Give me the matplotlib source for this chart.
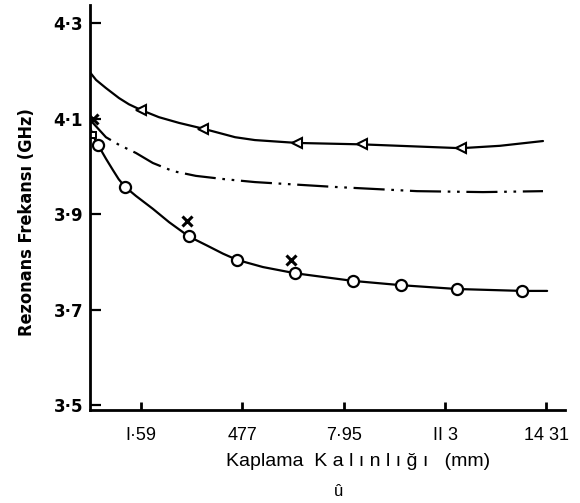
import matplotlib
matplotlib.use("Agg")
import matplotlib.pyplot as plt
from matplotlib import font_manager

# Coating thickness (mm) vs. resonant frequency (GHz)
x_ticks = [1.59, 4.77, 7.95, 11.13, 14.31]
x_tick_labels = ["I·59", "477", "7·95", "II 3", "14 31"]
y_ticks = [3.5, 3.7, 3.9, 4.1, 4.3]
y_tick_labels = ["3·5", "3·7", "3·9", "4·1", "4·3"]

# upper curve (traced line) and its triangle-marked measurements
upper_line_x = [0.0, 0.19, 0.50, 0.91, 1.22, 1.60, 2.16, 2.79, 3.54, 4.55, 5.17, 6.49,
                8.53, 11.63, 12.85, 14.2]
upper_line_y = [4.197, 4.181, 4.164, 4.143, 4.130, 4.118, 4.103, 4.091, 4.079, 4.061, 4.055, 4.049,
                4.046, 4.038, 4.043, 4.053]
upper_mark_x = [1.60, 3.54, 6.49, 8.53, 11.63]
upper_mark_y = [4.118, 4.079, 4.049, 4.046, 4.038]

# middle curve (dash-dot, no markers)
middle_x = [0.0, 0.09, 0.50, 0.91, 1.44, 1.97, 2.60, 3.32, 4.23, 5.17, 7.62, 10.25, 12.32, 14.2]
middle_y = [4.102, 4.091, 4.061, 4.045, 4.028, 4.007, 3.990, 3.980, 3.973, 3.967, 3.957, 3.948,
            3.946, 3.948]

# lower curve (traced line) and its circle-marked measurements
lower_line_x = [0.0, 0.09, 0.25, 0.50, 0.72, 0.90, 1.10, 1.44, 1.97, 2.48, 3.10, 3.67, 4.17, 4.61,
                5.42, 6.43, 8.24, 9.75, 11.50, 13.54, 14.33]
lower_line_y = [4.082, 4.065, 4.045, 4.016, 3.992, 3.973, 3.957, 3.938, 3.911, 3.883, 3.853, 3.834,
                3.817, 3.804, 3.789, 3.776, 3.760, 3.751, 3.743, 3.739, 3.739]
lower_mark_x = [0.25, 1.10, 3.10, 4.61, 6.43, 8.24, 9.75, 11.50, 13.54]
lower_mark_y = [4.045, 3.957, 3.853, 3.804, 3.776, 3.760, 3.751, 3.743, 3.739]
square_x = [0.09]
square_y = [4.065]

# cross-marked measurements
cross_x = [0.08, 3.04, 6.30]
cross_y = [4.100, 3.885, 3.804]

fig = plt.figure(figsize=(5.8, 5.03), dpi=100)
ax = fig.add_axes([90 / 580, 93 / 503, 475 / 580, 405 / 503])

ax.plot(upper_line_x, upper_line_y, color="black", lw=1.6,
        solid_capstyle="round", solid_joinstyle="round")
ax.plot(upper_mark_x, upper_mark_y, ls="none", marker="<", ms=6.5, mfc="white",
        mec="black", mew=1.5)

ax.plot(middle_x, middle_y, color="black", lw=1.6, ls=(0, (14, 3, 1.2, 3, 1.2, 3)),
        dash_joinstyle="round")

ax.plot(lower_line_x, lower_line_y, color="black", lw=1.6,
        solid_capstyle="round", solid_joinstyle="round")
ax.plot(lower_mark_x, lower_mark_y, ls="none", marker="o", ms=8, mfc="white",
        mec="black", mew=1.6)
ax.plot(square_x, square_y, ls="none", marker="s", ms=5, mfc="white", mec="black", mew=1.4)
ax.plot(cross_x, cross_y, ls="none", marker="x", ms=7, mec="black", mew=2.2)

ax.set_xlim(0, 14.89)
ax.set_ylim(3.4895, 4.338)

for side in ("top", "right"):
    ax.spines[side].set_visible(False)
for side in ("left", "bottom"):
    ax.spines[side].set_linewidth(2.0)

ax.set_xticks(x_ticks)
ax.set_xticklabels(x_tick_labels, fontfamily="Liberation Sans", fontsize=13)
ax.set_yticks(y_ticks)
ax.set_yticklabels(y_tick_labels, fontfamily="DejaVu Sans", fontsize=12, fontweight="bold")
ax.tick_params(axis="x", direction="in", length=6, width=2, pad=12)
ax.tick_params(axis="y", direction="in", length=8, width=1.6, pad=5)

dejavu_condensed = any("Condensed" in f.fname for f in font_manager.fontManager.ttflist
                       if f.name.startswith("DejaVu Sans"))
fig.text(27 / 580, 1 - 222 / 503, "Rezonans Frekansı (GHz)", rotation=90,
         ha="center", va="center", fontsize=13, fontweight="bold",
         fontfamily="DejaVu Sans",
         fontstretch="condensed" if dejavu_condensed else "normal")

fig.text(358 / 580, 1 - 462 / 503, "Kaplama  K a l ı n l ı ğ ı   (mm)",
         ha="center", va="center", fontsize=14, fontfamily="Liberation Sans")
fig.text(338 / 580, 1 - 492 / 503, "û", ha="center", va="center", fontsize=12,
         fontfamily="Liberation Sans")

fig.savefig("out.png", dpi=100)
